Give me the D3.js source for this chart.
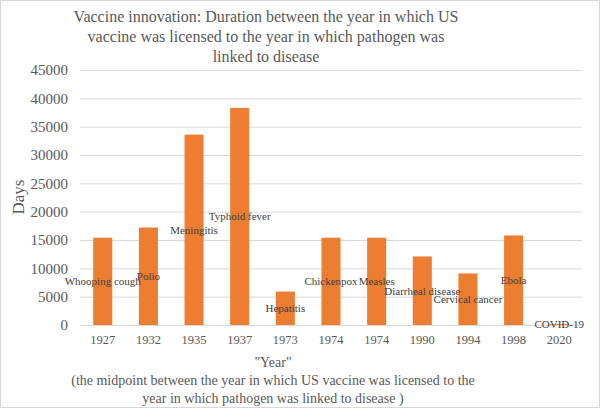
<!DOCTYPE html>
<html><head><meta charset="utf-8">
<script src="https://cdn.jsdelivr.net/npm/d3@7"></script>
<style>body{margin:0;background:#fff}svg{display:block}</style>
</head><body>
<svg id="chart" width="600" height="408"></svg>
<script>
const years = ["1927","1932","1935","1937","1973","1974","1974","1990","1994","1998","2020"];
const diseases = ["Whooping cough","Polio","Meningitis","Typhoid fever","Hepatitis","Chickenpox","Measles","Diarrheal disease","Cervical cancer","Ebola","COVID-19"];
const days = [15400, 17200, 33600, 38300, 5900, 15400, 15400, 12100, 9100, 15800, 150];
const yTicks = [0,5000,10000,15000,20000,25000,30000,35000,40000,45000];
const titleLines = ["Vaccine innovation: Duration between the year in which US","vaccine was licensed to the year in which pathogen was","linked to disease"];
const xTitleLines = ["\"Year\"","(the midpoint between the year in which US vaccine was licensed to the","year in which pathogen was linked to disease )"];

const font = "'Liberation Serif', serif";
const svg = d3.select("#chart");
svg.append("rect").attr("x",0.5).attr("y",0.5).attr("width",599).attr("height",407)
  .attr("fill","#fff").attr("stroke","#d9d9d9");

const m = {left:80, right:582, top:70, bottom:325};
const x = d3.scaleBand().domain(d3.range(years.length)).range([m.left,m.right]).paddingInner(0.583).paddingOuter(0.29);
const y = d3.scaleLinear().domain([0,45000]).range([m.bottom,m.top]);

// gridlines
svg.append("g").selectAll("line").data(yTicks).join("line")
  .attr("x1",m.left).attr("x2",m.right)
  .attr("y1",d=>y(d)+0.5).attr("y2",d=>y(d)+0.5)
  .attr("stroke","#d9d9d9").attr("stroke-width",1);

// y axis labels
const yAxis = d3.axisLeft(y).tickValues(yTicks).tickSize(0).tickPadding(12).tickFormat(d3.format("d"));
const gy = svg.append("g").attr("transform",`translate(${m.left},0)`).call(yAxis);
gy.select(".domain").remove();
gy.selectAll("text").attr("font-family",font).attr("font-size",15).attr("fill","#595959");

// x axis labels
const xAxis = d3.axisBottom(x).tickSize(0).tickPadding(10).tickFormat(i=>years[i]);
const gx = svg.append("g").attr("transform",`translate(0,${m.bottom})`).call(xAxis);
gx.select(".domain").remove();
gx.selectAll("text").attr("font-family",font).attr("font-size",12.5).attr("fill","#595959");

// bars
svg.append("g").selectAll("rect").data(days).join("rect")
  .attr("x",(d,i)=>x(i)).attr("width",x.bandwidth())
  .attr("y",d=>y(d)).attr("height",d=>y(0)-y(d))
  .attr("fill","#ED7D31");

// data labels
svg.append("g").selectAll("text").data(days).join("text")
  .attr("x",(d,i)=>x(i)+x.bandwidth()/2).attr("y",d=>y(d/2))
  .attr("dy","0.35em").attr("text-anchor","middle")
  .attr("font-family",font).attr("font-size",11).attr("fill","#404040")
  .text((d,i)=>diseases[i]);

// title
svg.append("g").selectAll("text").data(titleLines).join("text")
  .attr("x",266).attr("y",(d,i)=>22+i*20).attr("text-anchor","middle")
  .attr("font-family",font).attr("font-size",16).attr("fill","#595959").text(d=>d);

// y title
svg.append("text").attr("transform","translate(24,197) rotate(-90)")
  .attr("text-anchor","middle").attr("font-family",font).attr("font-size",17).attr("fill","#595959").text("Days");

// x title
svg.append("g").selectAll("text").data(xTitleLines).join("text")
  .attr("x",273).attr("y",(d,i)=>367+i*18).attr("text-anchor","middle")
  .attr("font-family",font).attr("font-size",14).attr("fill","#595959").text(d=>d);
</script>
</body></html>
